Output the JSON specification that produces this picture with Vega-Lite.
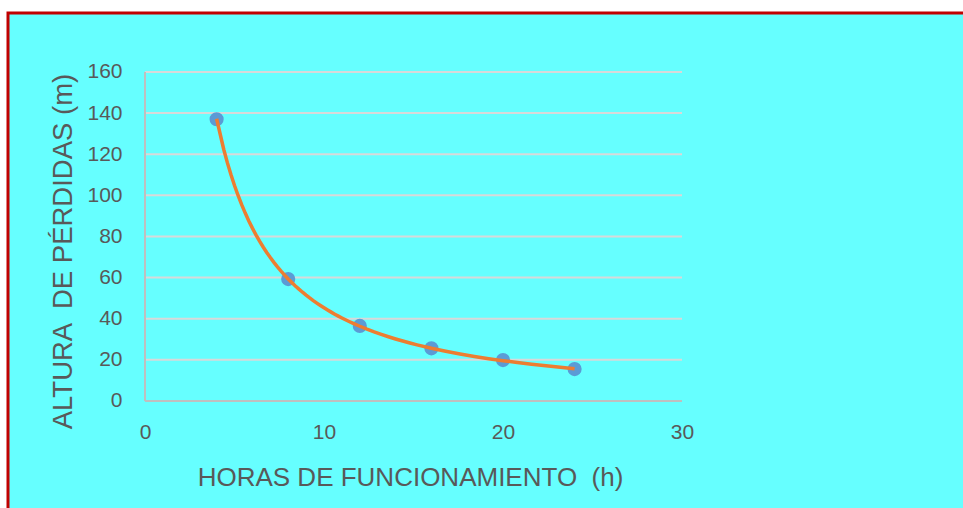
{
  "$schema": "https://vega.github.io/schema/vega-lite/v6.json",
  "width": 958,
  "height": 498,
  "autosize": {"type": "none"},
  "padding": {"left": 8, "top": 13, "right": 0, "bottom": 0},
  "background": "#FFFFFF",
  "config": {
    "font": "Liberation Sans",
    "view": {"fill": "#66FFFF", "stroke": "#C00000", "strokeWidth": 3}
  },
  "resolve": {"axis": {"x": "independent", "y": "independent"}},
  "datasets": {
    "mediciones": [
      {"horas": 4, "altura": 137},
      {"horas": 8, "altura": 59.3},
      {"horas": 12, "altura": 36.5},
      {"horas": 16, "altura": 25.6},
      {"horas": 20, "altura": 19.9},
      {"horas": 24, "altura": 15.5}
    ],
    "cuadricula": [
      {"altura": 20}, {"altura": 40}, {"altura": 60}, {"altura": 80},
      {"altura": 100}, {"altura": 120}, {"altura": 140}, {"altura": 160}
    ]
  },
  "layer": [
    {
      "data": {"name": "cuadricula"},
      "mark": {"type": "rule", "color": "#D9D9D9", "strokeWidth": 2},
      "encoding": {
        "y": {"field": "altura", "type": "quantitative",
              "scale": {"domain": [-53.5, 188.69], "nice": false, "zero": false}, "axis": null},
        "x": {"datum": 0, "type": "quantitative",
              "scale": {"domain": [-7.654, 45.866], "nice": false, "zero": false}, "axis": null},
        "x2": {"datum": 30}
      }
    },
    {
      "data": {"values": [{"altura": 0}]},
      "mark": {"type": "rule", "color": "#BFBFBF", "strokeWidth": 2},
      "encoding": {
        "y": {"field": "altura", "type": "quantitative", "axis": null},
        "x": {"datum": 0, "type": "quantitative", "axis": null},
        "x2": {"datum": 30}
      }
    },
    {
      "data": {"values": [{"horas": 0}]},
      "mark": {"type": "rule", "color": "#BFBFBF", "strokeWidth": 2},
      "encoding": {
        "x": {"field": "horas", "type": "quantitative", "axis": null},
        "y": {"datum": 0, "type": "quantitative", "axis": null},
        "y2": {"datum": 160}
      }
    },
    {
      "data": {"name": "mediciones"},
      "mark": {"type": "point", "filled": true, "opacity": 1, "color": "#5B9BD5", "size": 200},
      "encoding": {
        "x": {
          "field": "horas", "type": "quantitative",
          "axis": {
            "values": [0, 10, 20, 30],
            "offset": -110,
            "domain": false, "ticks": false, "tickSize": 0, "grid": false,
            "labelFontSize": 21, "labelColor": "#595959", "labelPadding": 31,
            "labelBaseline": "middle", "labelFlush": false, "labelOverlap": false,
            "title": "HORAS DE FUNCIONAMIENTO \u00a0(h)",
            "titleFontSize": 26, "titleFontWeight": "normal", "titleColor": "#595959",
            "titleX": 402, "titleY": 76, "titleBaseline": "middle", "titleAlign": "center"
          }
        },
        "y": {
          "field": "altura", "type": "quantitative",
          "axis": {
            "values": [0, 20, 40, 60, 80, 100, 120, 140, 160],
            "offset": -137,
            "domain": false, "ticks": false, "tickSize": 0, "grid": false,
            "labelFontSize": 21, "labelColor": "#595959", "labelPadding": 23,
            "labelFlush": false, "labelOverlap": false,
            "title": "ALTURA \u00a0DE PÉRDIDAS (m)",
            "titleFontSize": 27.5, "titleFontWeight": "normal", "titleColor": "#595959",
            "titleX": -82, "titleY": 238, "titleBaseline": "middle", "titleAlign": "center",
            "titleAngle": -90
          }
        }
      }
    },
    {
      "data": {"name": "mediciones"},
      "transform": [{"regression": "altura", "on": "horas", "method": "pow"}],
      "mark": {"type": "line", "color": "#ED7D31", "strokeWidth": 3.5},
      "encoding": {
        "x": {"field": "horas", "type": "quantitative", "axis": null},
        "y": {"field": "altura", "type": "quantitative", "axis": null}
      }
    }
  ]
}
